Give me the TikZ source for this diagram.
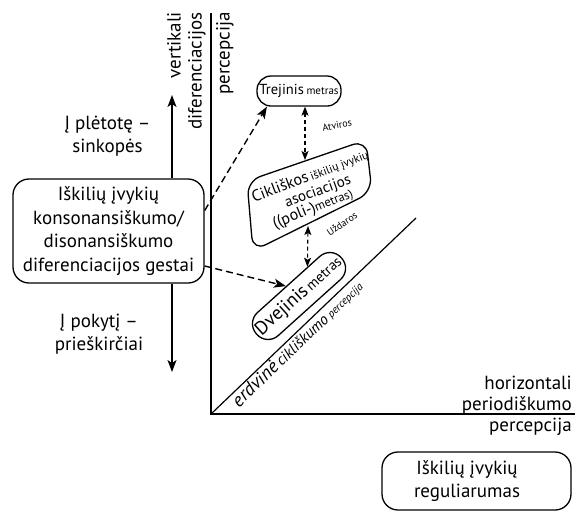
\documentclass[tikz,border=0pt]{standalone}
\usepackage{fontspec}
\setmainfont{PT Sans}
\usetikzlibrary{arrows.meta,calc}
\newcommand\fsz[2]{\fontsize{#1}{#2}\selectfont}

\begin{document}
\begin{tikzpicture}[x=1pt,y=-1pt,
  box/.style={draw,line width=1.3pt,rounded corners=16pt,inner sep=0pt},
  axisline/.style={line width=1.2pt},
  lbl/.style={inner sep=0pt,font=\fsz{19}{23.5}},
  small/.style={inner sep=0pt,font=\fsz{10}{12}},
  solidarrow/.style={line width=1.5pt,-{Stealth[length=12pt,width=9pt,inset=3pt]}},
  dasharrow/.style={line width=1.4pt,dash pattern=on 7pt off 4pt,-{Stealth[length=12pt,width=9pt,inset=3pt]}},
  twowayarrow/.style={line width=1.1pt,dash pattern=on 4pt off 3pt,{Stealth[length=9pt,width=7pt,inset=2pt]}-{Stealth[length=9pt,width=7pt,inset=2pt]}},
]
\useasboundingbox (0,0) rectangle (575,512);

% axes
\coordinate (O) at (211,414);
\coordinate (vtop) at (211,13);
\coordinate (hend) at (575,414);
\coordinate (dend) at (416,218);
\draw[axisline] (vtop) -- (O) -- (hend);
\draw[axisline] (O) -- (dend);

% vertical axis caption
\node[lbl,rotate=90,anchor=east] (vl1) at (174,12) {vertikali};
\node[lbl,rotate=90,anchor=east] (vl2) at (197,12) {diferenciacijos};
\node[lbl,rotate=90,anchor=east] (vl3) at (225,12) {percepcija};

% horizontal axis caption
\node[lbl,anchor=east] (hl1) at (572,383) {horizontali};
\node[lbl,anchor=east] (hl2) at (572,405) {periodiškumo};
\node[lbl,anchor=east] (hl3) at (572,427) {percepcija};

% diagonal axis caption
\coordinate (e0) at ($(O)!0.08!(dend)$);
\node[rotate=44,anchor=north west,inner sep=1.5pt,font=\itshape] (diag) at (e0)
  {{\fsz{19}{20}erdvinė} {\fsz{15.5}{17}cikliškumo} {\fsz{11}{12}percepcija}};

% gestures box and the two directions
\node[box,minimum width=191pt,minimum height=104pt,align=center,font=\fsz{19}{23.5}] (gest) at (108.5,231)
  {Iškilių įvykių\\konsonansiškumo/\\disonansiškumo\\diferenciacijos gestai};
\coordinate (uptip) at (172,95);
\coordinate (downtip) at (172,372);
\draw[solidarrow] (gest.north -| uptip) -- (uptip);
\draw[solidarrow] (gest.south -| downtip) -- (downtip);
\node[lbl,align=center] (upl) at (107.5,136) {Į plėtotę –\\sinkopės};
\node[lbl,align=center] (downl) at (99,334) {Į pokytį –\\prieškirčiai};

% metre boxes
\node[box,rounded corners=14pt,minimum width=84pt,minimum height=30pt] (trej) at (299,91)
  {{\fsz{14.5}{16}Trejinis} {\fsz{11}{13}metras}};
\node[box,rounded corners=15pt,minimum width=114pt,minimum height=31pt,rotate=42] (dvej) at (299,296)
  {{\fsz{19}{20}Dvejinis} {\fsz{14.5}{16}metras}};

% cyclic associations box
\coordinate (c1) at (247,181);
\coordinate (c2) at (366,140);
\coordinate (c3) at (372,192);
\coordinate (c4) at (253,251);
\draw[line width=1.3pt,rounded corners=14pt] ($(c1)!0.5!(c2)$) -- (c2) -- (c3) -- (c4) -- (c1) -- cycle;
\node[inner sep=0pt,rotate=21] (cik1) at (310,176) {{\fsz{16}{18}Cikliškos} {\fsz{11.5}{13}iškilių įvykių}};
\node[inner sep=0pt,rotate=20] (cik2) at (318,192) {\fsz{15}{16}asociacijos};
\node[inner sep=0pt,rotate=22] (cik3) at (313,209) {{\fsz{16}{18}((poli-)}{\fsz{12.5}{14}metras)}};
\coordinate (cikTop) at (305,160);
\coordinate (cikBot) at (308,226);

% links between the metres
\draw[twowayarrow] (trej.south -| cikTop) -- (cikTop);
\draw[twowayarrow] (cikBot) -- (dvej.32);
\node[small,rotate=10] (atv) at (337,125) {Atviros};
\node[small,rotate=34] (uzd) at (342,224) {Uždaros};

% links from the gestures
\draw[dasharrow] (gest.12) -- (trej.-154);
\draw[dasharrow] (gest.-20) -- (dvej.101);

% regularity box
\node[box,minimum width=189pt,minimum height=58pt] (reg) at (476.5,481) {};
\node[lbl,align=center] (regt) at (467,481) {Iškilių įvykių\\reguliarumas};
\end{tikzpicture}
\end{document}
